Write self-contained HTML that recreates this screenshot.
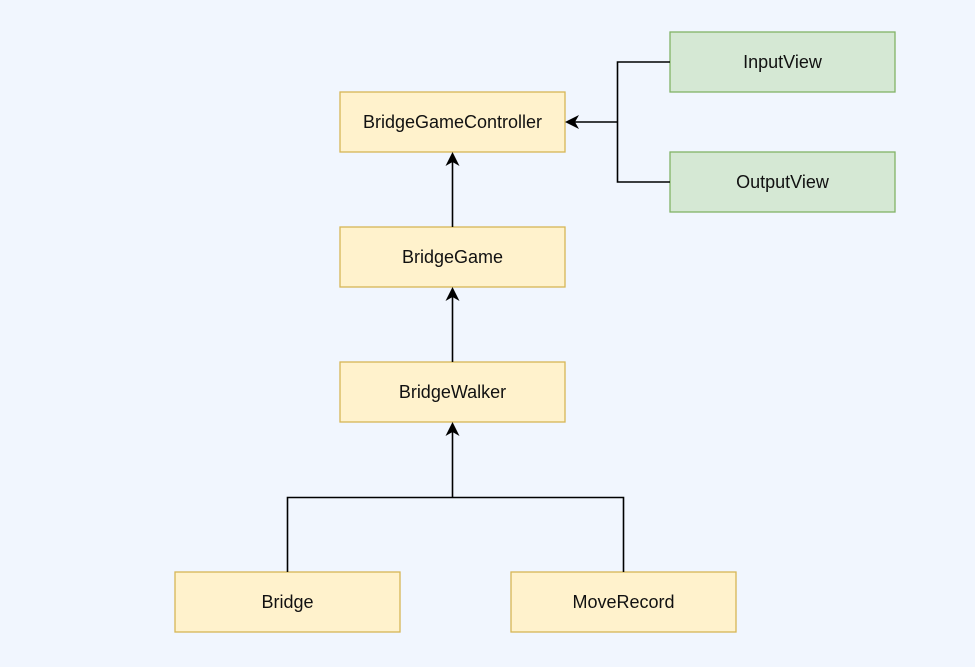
<!DOCTYPE html>
<html><head><style>
body{margin:0;background:#f1f6fe;}
svg{display:block}
text{font-family:"Liberation Sans",Arial,sans-serif;font-size:18px;fill:#111;text-anchor:middle;dominant-baseline:central}
</style></head><body>
<svg width="975" height="667" xmlns="http://www.w3.org/2000/svg">
<rect width="975" height="667" fill="#f1f6fe"/>
<g fill="#fff2cc" stroke="#d6b656" stroke-width="1.3">
<rect x="340" y="92" width="225" height="60"/>
<rect x="340" y="227" width="225" height="60"/>
<rect x="340" y="362" width="225" height="60"/>
<rect x="175" y="572" width="225" height="60"/>
<rect x="511" y="572" width="225" height="60"/>
</g>
<g fill="#d5e8d4" stroke="#82b366" stroke-width="1.3">
<rect x="670" y="32" width="225" height="60"/>
<rect x="670" y="152" width="225" height="60"/>
</g>
<g stroke="#000" stroke-width="1.6" fill="none">
<path d="M670 62H617.5V182H670"/>
<path d="M617.5 122H575"/>
<path d="M452.5 227V162"/>
<path d="M452.5 362V297"/>
<path d="M287.5 572V497.5H623.5V572"/>
<path d="M452.5 497.5V432"/>
</g>
<g fill="#000">
<path d="M565 122L579 115L575 122L579 129Z"/>
<path d="M452.5 152L445.5 166L452.5 162L459.5 166Z"/>
<path d="M452.5 287L445.5 301L452.5 297L459.5 301Z"/>
<path d="M452.5 422L445.5 436L452.5 432L459.5 436Z"/>
</g>
<text x="452.5" y="122">BridgeGameController</text>
<text x="452.5" y="257">BridgeGame</text>
<text x="452.5" y="392">BridgeWalker</text>
<text x="287.5" y="602">Bridge</text>
<text x="623.5" y="602">MoveRecord</text>
<text x="782.5" y="62">InputView</text>
<text x="782.5" y="182">OutputView</text>
</svg>
</body></html>
